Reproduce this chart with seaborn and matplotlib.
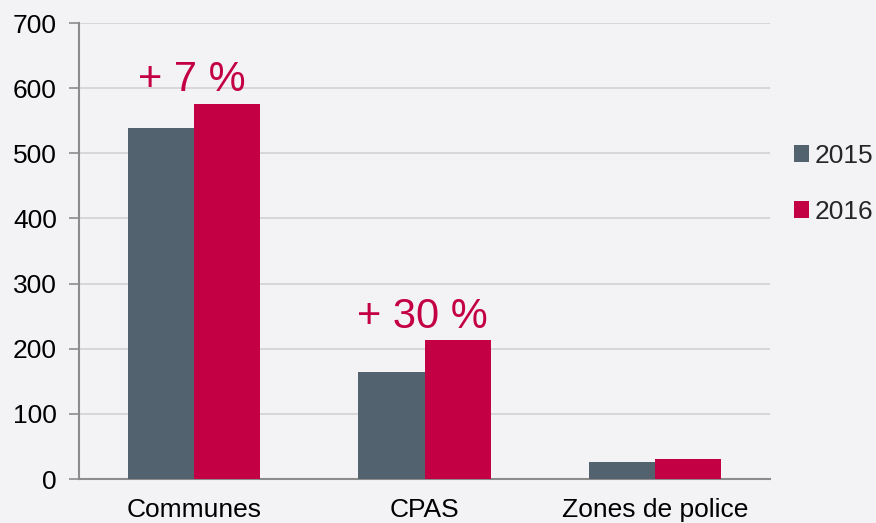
import matplotlib
matplotlib.use("Agg")
import matplotlib.pyplot as plt
import seaborn as sns
import pandas as pd

categories = ["Communes", "CPAS", "Zones de police"]
years = ["2015", "2016"]
values_2015 = [539, 164, 26]
values_2016 = [576, 213, 30]
growth_labels = ["+ 7 %", "+ 30 %", None]
colors = ["#52636f", "#c40044"]

df = pd.DataFrame({
    "cat": categories * 2,
    "year": [years[0]] * 3 + [years[1]] * 3,
    "val": values_2015 + values_2016,
})

sns.set_theme(style="white")
plt.rcParams["font.family"] = ["Liberation Sans", "DejaVu Sans"]

bg = "#f3f3f5"
fig = plt.figure(figsize=(8.76, 5.23), dpi=100, facecolor=bg)
ax = fig.add_axes([0.0902, 0.0841, 0.879 - 0.0902, 0.956 - 0.0841])
ax.set_facecolor(bg)

sns.barplot(data=df, x="cat", y="val", hue="year", palette=colors,
            width=0.574, saturation=1, ax=ax, linewidth=0, zorder=3)

ax.set_ylim(0, 700)
ax.set_xlim(-0.5, 2.5)
ax.set_yticks(range(0, 701, 100))
ax.yaxis.grid(True, color="#d2d2d4", linewidth=1.2, zorder=0)
ax.xaxis.grid(False)
ax.set_axisbelow(True)
ax.set_xlabel("")
ax.set_ylabel("")

for s in ["top", "right"]:
    ax.spines[s].set_visible(False)
for s in ["left", "bottom"]:
    ax.spines[s].set_color("#8c8c8c")
    ax.spines[s].set_linewidth(1.5)

ax.tick_params(axis="y", which="both", left=True, length=7, width=1.2,
               color="#8c8c8c", labelsize=19, pad=9, labelcolor="black")
ax.tick_params(axis="x", bottom=False, labelsize=19, pad=8, labelcolor="black")

for i, lab in enumerate(growth_labels):
    if lab:
        top = max(values_2015[i], values_2016[i])
        ax.text(i - 0.01, top + 19, lab, ha="center", va="baseline",
                fontsize=30, color="#c40044")

handles, labels = ax.get_legend_handles_labels()
ax.legend(handles, labels, loc="upper left", bbox_to_anchor=(0.906, 0.725),
          bbox_transform=fig.transFigure, frameon=False, fontsize=19,
          handlelength=0.6, handleheight=0.6, handletextpad=0.2,
          labelspacing=1.22, borderaxespad=0, borderpad=0)

fig.savefig("out.png", dpi=100, facecolor=bg)
